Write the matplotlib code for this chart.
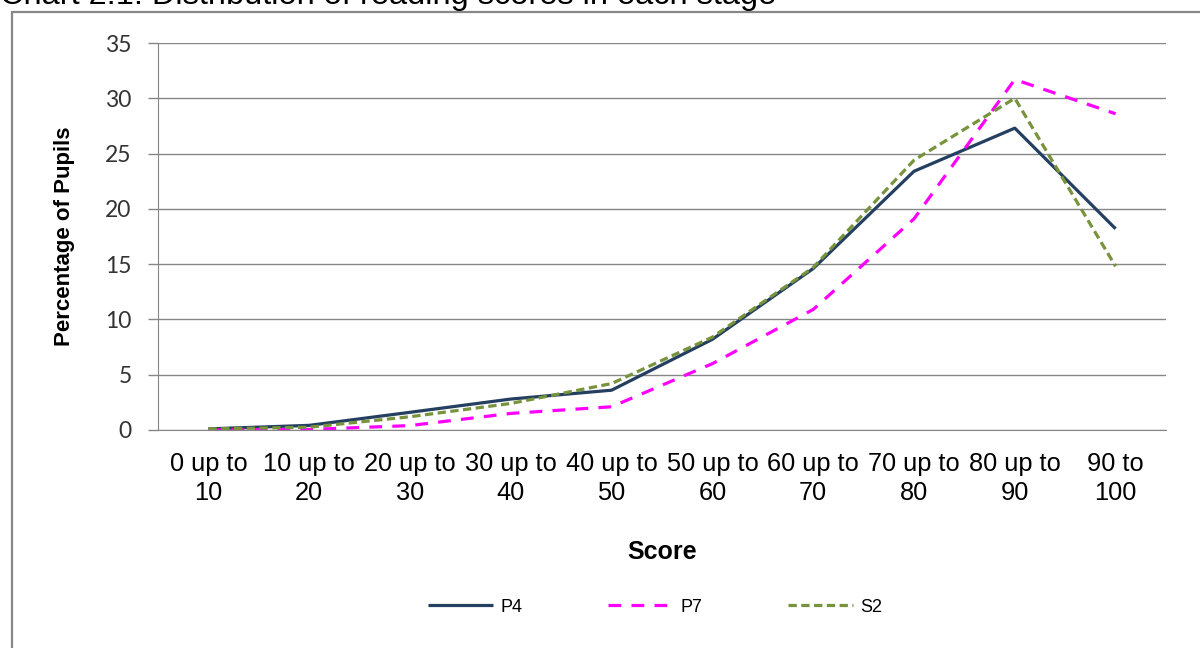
import matplotlib.pyplot as plt
from matplotlib.patches import Rectangle

# data
categories = ["0 up to\n10", "10 up to\n20", "20 up to\n30", "30 up to\n40", "40 up to\n50",
              "50 up to\n60", "60 up to\n70", "70 up to\n80", "80 up to\n90", "90 to\n100"]
p4 = [0.1, 0.42, 1.6, 2.8, 3.6, 8.2, 14.6, 23.4, 27.3, 18.2]
p7 = [0.0, 0.05, 0.4, 1.5, 2.1, 6.0, 10.9, 19.1, 31.7, 28.6]
s2 = [0.1, 0.25, 1.2, 2.4, 4.2, 8.4, 14.7, 24.4, 30.0, 14.8]

fig = plt.figure(figsize=(12, 6.48), dpi=100)
ax = fig.add_axes([158 / 1200, 1 - 430 / 648, (1166 - 158) / 1200, (430 - 43) / 648])

x = range(len(categories))
ax.plot(x, p4, color="#243F60", lw=2.3, label="P4", solid_capstyle="butt")
ax.plot(x, p7, color="#FF00FF", lw=2.3, dashes=(4, 3.2), label="P7")
ax.plot(x, s2, color="#77933C", lw=2.3, dashes=(2.6, 1.4), label="S2")

ax.set_xlim(-0.5, len(categories) - 0.5)
ax.set_ylim(0, 35)
ax.set_yticks(range(0, 36, 5))
ax.set_xticks(list(x))
ax.set_xticklabels(categories, fontsize=18.3, family="Liberation Sans", color="#000000",
                   linespacing=1.25)
ax.tick_params(axis="x", length=0, pad=16)
ax.tick_params(axis="y", length=7, width=1, color="#868686", labelsize=16.5,
               labelcolor="#333333", pad=12)
for lab in ax.get_yticklabels():
    lab.set_family("Lato")

ax.grid(axis="y", color="#868686", lw=1)
ax.set_axisbelow(True)
for side in ["top", "right"]:
    ax.spines[side].set_visible(False)
ax.spines["left"].set_color("#868686")
ax.spines["bottom"].set_color("#868686")

ax.set_xlabel("Score", fontsize=18, fontweight="bold", family="Liberation Sans", labelpad=25)
ax.set_ylabel("Percentage of Pupils", fontsize=16, fontweight="bold",
              family="Liberation Sans", labelpad=22)

fig.legend(loc="center", bbox_to_anchor=(0.546, 1 - 607 / 648), ncol=3, frameon=False,
           handlelength=3.6, columnspacing=4.7, handletextpad=0.45,
           prop={"family": "Liberation Sans", "size": 13})

# outer chart frame, cut off on the right and bottom
fig.patches.append(Rectangle((12 / 1200, -0.1), 1.2, 1 - 12 / 648 + 0.1,
                             transform=fig.transFigure, fill=False,
                             edgecolor="#888888", lw=1.6))

fig.text(0, 1 - 4 / 648, "Chart 2.1: Distribution of reading scores in each stage",
         fontsize=23.4, family="Liberation Sans", va="baseline", ha="left")

fig.savefig("out.png", dpi=100)
